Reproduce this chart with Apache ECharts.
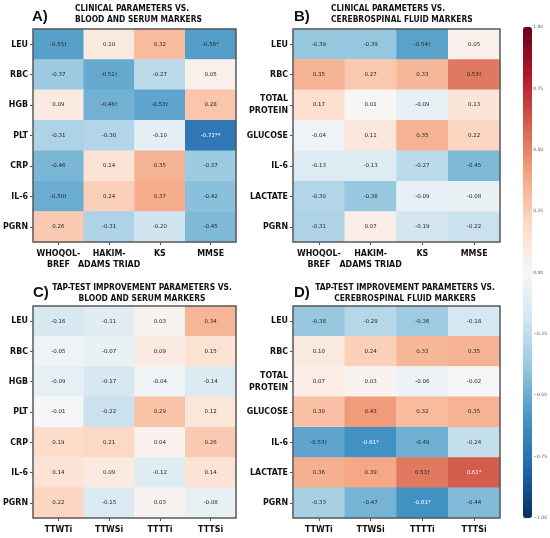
<!DOCTYPE html>
<html>
<head>
<meta charset="UTF-8">
<style>
  * { margin: 0; padding: 0; }
  #main { width: 550px; height: 538px; background: #fff; }
</style>
</head>
<body>
<div id="main"></div>
<script src="https://cdn.jsdelivr.net/npm/echarts@6/dist/echarts.min.js"></script>
<script>
  // rows / columns
  const rowsBlood = ['LEU', 'RBC', 'HGB', 'PLT', 'CRP', 'IL-6', 'PGRN'];
  const rowsCsf = ['LEU', 'RBC', 'TOTAL\nPROTEIN', 'GLUCOSE', 'IL-6', 'LACTATE', 'PGRN'];
  const colsClinical = ['WHOQOL-\nBREF', 'HAKIM-\nADAMS TRIAD', 'KS', 'MMSE'];
  const colsTap = ['TTWTi', 'TTWSi', 'TTTTi', 'TTTSi'];

  // A) clinical vs blood and serum
  const valuesA = [
    [-0.55, 0.10, 0.32, -0.56],
    [-0.37, -0.51, -0.27, 0.05],
    [0.09, -0.48, -0.53, 0.28],
    [-0.31, -0.30, -0.10, -0.72],
    [-0.46, 0.14, 0.35, -0.37],
    [-0.50, 0.24, 0.37, -0.42],
    [0.26, -0.31, -0.20, -0.45]
  ];
  const marksA = [
    ['†', '', '', '*'],
    ['', '†', '', ''],
    ['', '†', '†', ''],
    ['', '', '', '**'],
    ['', '', '', ''],
    ['†', '', '', ''],
    ['', '', '', '']
  ];

  // B) clinical vs CSF
  const valuesB = [
    [-0.39, -0.39, -0.54, 0.05],
    [0.35, 0.27, 0.33, 0.53],
    [0.17, 0.01, -0.09, 0.13],
    [-0.04, 0.11, 0.35, 0.22],
    [-0.13, -0.13, -0.27, -0.45],
    [-0.30, -0.38, -0.09, -0.08],
    [-0.31, 0.07, -0.19, -0.22]
  ];
  const marksB = [
    ['', '', '†', ''],
    ['', '', '', '†'],
    ['', '', '', ''],
    ['', '', '', ''],
    ['', '', '', ''],
    ['', '', '', ''],
    ['', '', '', '']
  ];

  // C) tap-test vs blood and serum
  const valuesC = [
    [-0.16, -0.11, 0.03, 0.34],
    [-0.05, -0.07, 0.09, 0.15],
    [-0.09, -0.17, -0.04, -0.14],
    [-0.01, -0.22, 0.29, 0.12],
    [0.19, 0.21, 0.04, 0.26],
    [0.14, 0.09, -0.12, 0.14],
    [0.22, -0.15, 0.03, -0.08]
  ];
  const marksC = valuesC.map(r => r.map(() => ''));

  // D) tap-test vs CSF
  const valuesD = [
    [-0.38, -0.29, -0.36, -0.18],
    [0.10, 0.24, 0.33, 0.35],
    [0.07, 0.03, -0.06, -0.02],
    [0.30, 0.43, 0.32, 0.35],
    [-0.53, -0.61, -0.49, -0.24],
    [0.36, 0.39, 0.53, 0.61],
    [-0.33, -0.47, -0.61, -0.44]
  ];
  const marksD = [
    ['', '', '', ''],
    ['', '', '', ''],
    ['', '', '', ''],
    ['', '', '', ''],
    ['†', '*', '', ''],
    ['', '', '†', '*'],
    ['', '', '*', '']
  ];

  const colorbarTicks = [-1, -0.75, -0.5, -0.25, 0, 0.25, 0.5, 0.75, 1];

  const panels = [
    { letter: 'A)', title: 'CLINICAL PARAMETERS VS.\nBLOOD AND SERUM MARKERS', rows: rowsBlood, cols: colsClinical, values: valuesA, marks: marksA },
    { letter: 'B)', title: 'CLINICAL PARAMETERS VS.\nCEREBROSPINAL FLUID MARKERS', rows: rowsCsf, cols: colsClinical, values: valuesB, marks: marksB },
    { letter: 'C)', title: 'TAP-TEST IMPROVEMENT PARAMETERS VS.\nBLOOD AND SERUM MARKERS', rows: rowsBlood, cols: colsTap, values: valuesC, marks: marksC },
    { letter: 'D)', title: 'TAP-TEST IMPROVEMENT PARAMETERS VS.\nCEREBROSPINAL FLUID MARKERS', rows: rowsCsf, cols: colsTap, values: valuesD, marks: marksD }
  ];

  // layout of the four panels
  const boxes = [
    { left: 29, top: 29, width: 207, height: 213 },
    { left: 293, top: 29, width: 207, height: 213 },
    { left: 29, top: 306, width: 207, height: 212 },
    { left: 293, top: 306, width: 207, height: 212 }
  ];
  const titlePos = [
    { left: 75, top: 3, align: 'left' },
    { left: 331, top: 3, align: 'left' },
    { left: 142, top: 282, align: 'center' },
    { left: 405, top: 282, align: 'center' }
  ];
  const letterPos = [
    { left: 32, top: 9 }, { left: 294, top: 9 },
    { left: 33, top: 285 }, { left: 294, top: 285 }
  ];

  const narrow = "'Liberation Sans Narrow', 'DejaVu Sans Condensed', 'Arial Narrow', sans-serif";
  const rdbu = ['#053061', '#2166ac', '#4393c3', '#92c5de', '#d1e5f0', '#f7f7f7',
                '#fddbc7', '#f4a582', '#d6604d', '#b2182b', '#67001f'];

  const chart = echarts.init(document.getElementById('main'));

  const grid = [], xAxis = [], yAxis = [], series = [], title = [];
  panels.forEach((p, i) => {
    grid.push(Object.assign({ show: true, borderColor: '#5a5a5a', borderWidth: 1.5, backgroundColor: 'transparent', z: 3 }, boxes[i]));
    xAxis.push({
      type: 'category', gridIndex: i, data: p.cols, position: 'bottom',
      axisLine: { show: false },
      axisTick: { show: true, alignWithLabel: true, length: 3, lineStyle: { color: '#555' } },
      axisLabel: { margin: 6, fontSize: 8.8, fontWeight: 'bold', fontFamily: narrow, color: '#111', lineHeight: 11, interval: 0 },
      splitLine: { show: false }
    });
    yAxis.push({
      type: 'category', gridIndex: i, data: p.rows, inverse: true,
      axisLine: { show: false },
      axisTick: { show: true, alignWithLabel: true, length: 3, lineStyle: { color: '#555' } },
      axisLabel: { margin: 5, fontSize: 8.8, fontWeight: 'bold', fontFamily: narrow, color: '#111', lineHeight: 12, interval: 0 },
      splitLine: { show: false }
    });
    const data = [];
    p.values.forEach((row, r) => row.forEach((v, c) => {
      data.push({
        value: [c, r, v],
        mark: p.marks[r][c],
        label: { color: Math.abs(v) >= 0.6 ? '#ffffff' : '#262626' }
      });
    }));
    series.push({
      type: 'heatmap', xAxisIndex: i, yAxisIndex: i, data: data,
      label: {
        show: true, fontSize: 5.5, fontFamily: 'DejaVu Sans, sans-serif',
        formatter: d => d.data.value[2].toFixed(2) + d.data.mark
      },
      emphasis: { disabled: true }
    });
    title.push({
      text: p.title, left: titlePos[i].left, top: titlePos[i].top, textAlign: titlePos[i].align,
      padding: 0,
      textStyle: { fontSize: 8.4, fontWeight: 'bold', fontFamily: narrow, color: '#111', lineHeight: 11 }
    });
    title.push({
      text: p.letter, left: letterPos[i].left, top: letterPos[i].top, padding: 0,
      textStyle: { fontSize: 15, fontWeight: 'bold', fontFamily: 'Liberation Sans, Arial, sans-serif', color: '#111' }
    });
  });

  // colorbar tick labels
  grid.push({ left: 523, top: 27, width: 9, height: 491, show: false });
  xAxis.push({ type: 'value', gridIndex: 4, show: false });
  yAxis.push({
    type: 'value', gridIndex: 4, position: 'right', min: -1, max: 1, interval: 0.25,
    axisLine: { show: false },
    axisTick: { show: true, length: 2, lineStyle: { color: '#888', width: 0.5 } },
    axisLabel: {
      fontSize: 4.5, color: '#555', margin: 3, fontFamily: 'DejaVu Sans, sans-serif',
      formatter: v => colorbarTicks.includes(v) ? v.toFixed(2).replace('-', '\u2212') : ''
    },
    splitLine: { show: false }
  });

  chart.setOption({
    animation: false,
    title: title,
    grid: grid,
    xAxis: xAxis,
    yAxis: yAxis,
    visualMap: {
      type: 'continuous', min: -1, max: 1, seriesIndex: [0, 1, 2, 3],
      calculable: false, realtime: false, hoverLink: false,
      orient: 'vertical', left: 523, top: 27, itemWidth: 9, itemHeight: 491,
      padding: 0, text: null, showLabel: false,
      inRange: { color: rdbu }
    },
    series: series
  });
</script>
</body>
</html>
